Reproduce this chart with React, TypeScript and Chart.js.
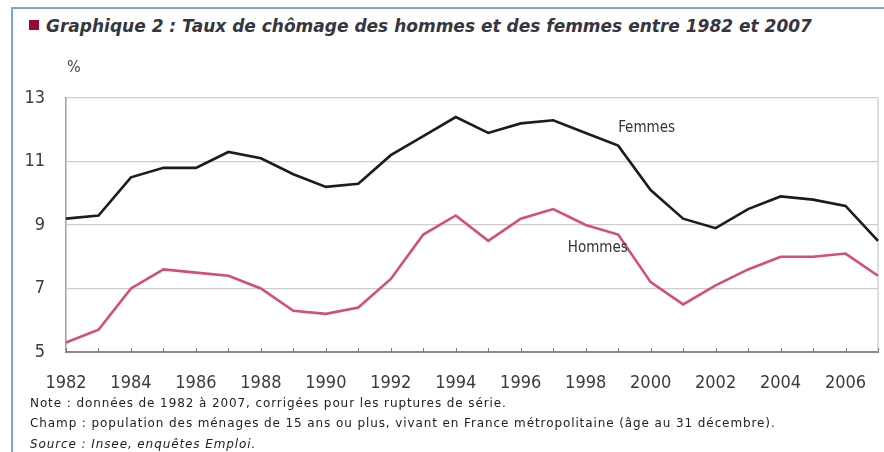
import React, { useEffect, useRef } from 'react';
import { Chart, registerables } from 'chart.js';

Chart.register(...registerables);

const years = [1982, 1983, 1984, 1985, 1986, 1987, 1988, 1989, 1990, 1991, 1992, 1993, 1994, 1995, 1996, 1997, 1998, 1999, 2000, 2001, 2002, 2003, 2004, 2005, 2006, 2007];
const femmes = [9.2, 9.3, 10.5, 10.8, 10.8, 11.3, 11.1, 10.6, 10.2, 10.3, 11.2, 11.8, 12.4, 11.9, 12.2, 12.3, 11.9, 11.5, 10.1, 9.2, 8.9, 9.5, 9.9, 9.8, 9.6, 8.5];
const hommes = [5.3, 5.7, 7.0, 7.6, 7.5, 7.4, 7.0, 6.3, 6.2, 6.4, 7.3, 8.7, 9.3, 8.5, 9.2, 9.5, 9.0, 8.7, 7.2, 6.5, 7.1, 7.6, 8.0, 8.0, 8.1, 7.4];
const xTickLabels = ['1982', '1984', '1986', '1988', '1990', '1992', '1994', '1996', '1998', '2000', '2002', '2004', '2006'];
const yTickValues = [5, 7, 9, 11, 13];

const NARROW = '"Liberation Sans Narrow", "DejaVu Sans Condensed", sans-serif';

const decorPlugin = {
  id: 'decor',
  beforeDatasetsDraw(chart: any) {
    const { ctx, chartArea, scales } = chart;
    const x = scales.x;
    ctx.save();
    ctx.strokeStyle = '#c8c8c8';
    ctx.lineWidth = 1.2;
    ctx.beginPath();
    ctx.moveTo(chartArea.right, chartArea.top);
    ctx.lineTo(chartArea.right, chartArea.bottom);
    ctx.stroke();
    ctx.strokeStyle = '#777';
    ctx.lineWidth = 1;
    years.forEach((_, i) => {
      const px = Math.round(x.getPixelForValue(i)) + 0.5;
      ctx.beginPath();
      ctx.moveTo(px, chartArea.bottom);
      ctx.lineTo(px, chartArea.bottom - 4);
      ctx.stroke();
    });
    ctx.restore();
  },
  afterDraw(chart: any) {
    const { ctx, scales } = chart;
    ctx.save();
    ctx.font = '15px ' + NARROW;
    ctx.fillStyle = '#333';
    ctx.textBaseline = 'middle';
    ctx.textAlign = 'left';
    ctx.fillText('Femmes', scales.x.getPixelForValue(17.0), scales.y.getPixelForValue(12.06));
    ctx.fillText('Hommes', scales.x.getPixelForValue(15.45), scales.y.getPixelForValue(8.28));
    ctx.font = '16px ' + NARROW;
    ctx.fillStyle = '#444';
    ctx.fillText('%', 67, 68);
    ctx.restore();
  },
};

function ChartCanvas() {
  const ref = useRef<HTMLCanvasElement | null>(null);
  useEffect(() => {
    if (!ref.current) return;
    const chart = new Chart(ref.current, {
      type: 'line',
      data: {
        labels: years.map(String),
        datasets: [
          { label: 'Femmes', data: femmes, borderColor: '#1c1c1c', borderWidth: 2.6, pointRadius: 0, tension: 0, fill: false },
          { label: 'Hommes', data: hommes, borderColor: '#d4506e', borderWidth: 2.6, pointRadius: 0, tension: 0, fill: false },
        ],
      },
      options: {
        responsive: false,
        animation: false,
        devicePixelRatio: 1,
        layout: { padding: { top: 98, right: 6, left: 0, bottom: 0 } },
        plugins: { legend: { display: false }, tooltip: { enabled: false } },
        scales: {
          x: {
            type: 'category',
            offset: false,
            grid: { display: false, drawTicks: false },
            border: { display: true, color: '#8a8a8a', width: 2 },
            ticks: {
              autoSkip: false,
              maxRotation: 0,
              padding: 21,
              color: '#3c3c3c',
              font: { size: 18, family: NARROW },
              callback: (_v: any, i: number) => (xTickLabels.includes(String(years[i])) ? String(years[i]) : ''),
            },
            afterFit: (s: any) => { s.height = 100; s.paddingLeft = 0; s.paddingRight = 0; },
          },
          y: {
            min: yTickValues[0],
            max: yTickValues[yTickValues.length - 1],
            afterBuildTicks: (s: any) => { s.ticks = yTickValues.map((v) => ({ value: v })); },
            grid: { color: '#cdcdcd', lineWidth: 1.2, drawTicks: false },
            border: { display: true, color: '#a0a0a0', width: 1.5 },
            ticks: { padding: 21, color: '#3c3c3c', font: { size: 18, family: NARROW } },
            afterFit: (s: any) => { s.width = 66; s.paddingTop = 0; s.paddingBottom = 0; },
          },
        },
      },
      plugins: [decorPlugin],
    });
    return () => chart.destroy();
  }, []);
  return <canvas ref={ref} width={884} height={452} style={{ position: 'absolute', left: 0, top: 0, width: 884, height: 452 }} />;
}

const noteStyle: React.CSSProperties = {
  position: 'absolute',
  left: 30,
  whiteSpace: 'nowrap',
  fontFamily: '"DejaVu Sans", Verdana, sans-serif',
  fontSize: 12,
  letterSpacing: 0.9,
  color: '#222',
  lineHeight: '14px',
};

export default function App() {
  return (
    <div style={{ position: 'absolute', left: 0, top: 0, width: 884, height: 452, background: '#fff', overflow: 'hidden' }}>
      <div style={{ position: 'absolute', left: 11, top: 7, width: 900, height: 460, borderLeft: '2px solid #7aa5da', borderTop: '2px solid #7aa5da' }} />
      <div style={{ position: 'absolute', left: 29, top: 20, width: 10, height: 10, background: '#9b0a36' }} />
      <div style={{ position: 'absolute', left: 46, top: 15, whiteSpace: 'nowrap', fontFamily: '"DejaVu Sans", Verdana, sans-serif', fontWeight: 'bold', fontStyle: 'italic', fontSize: 17, lineHeight: '22px', color: '#363640' }}>
        Graphique 2 : Taux de chômage des hommes et des femmes entre 1982 et 2007
      </div>
      <ChartCanvas />
      <div style={{ ...noteStyle, top: 396 }}>
        Note : données de 1982 à 2007, corrigées pour les ruptures de série.
      </div>
      <div style={{ ...noteStyle, top: 416 }}>
        Champ : population des ménages de 15 ans ou plus, vivant en France métropolitaine (âge au 31 décembre).
      </div>
      <div style={{ ...noteStyle, top: 437, fontStyle: 'italic' }}>
        Source : Insee, enquêtes Emploi.
      </div>
    </div>
  );
}
